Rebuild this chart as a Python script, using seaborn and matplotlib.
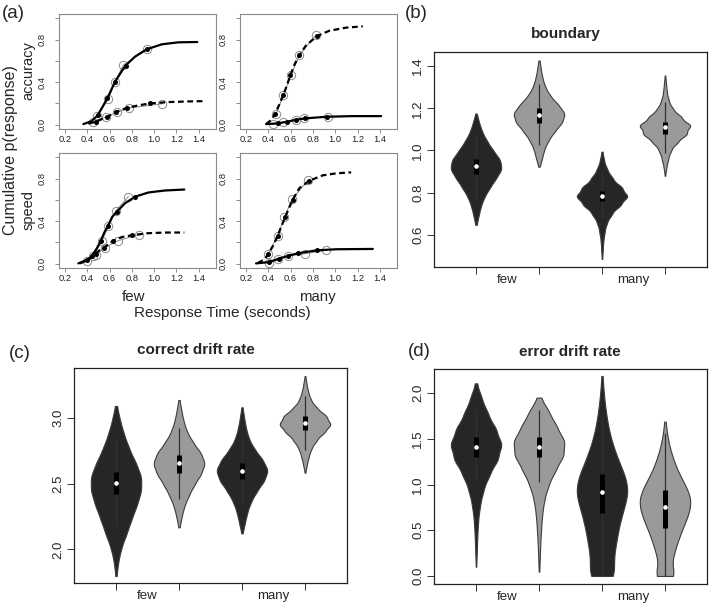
import numpy as np
import pandas as pd
import matplotlib
matplotlib.use("Agg")
import matplotlib.pyplot as plt
import seaborn as sns

sns.set_theme(style="white")
plt.rcParams["font.family"] = ["Liberation Sans", "DejaVu Sans"]

DARK = "#262626"
LIGHT = "#9a9a9a"
GREY = "#8a8a8a"

# ---------------- panel (a): cumulative response-time curves ----------------
# top-left: few / accuracy
fa_solid_curve = ([0.365, 0.439, 0.493, 0.58, 0.649, 0.739, 0.828, 0.933, 1.068, 1.217, 1.388],
                  [0.006, 0.034, 0.088, 0.247, 0.404, 0.551, 0.639, 0.708, 0.755, 0.774, 0.777])
fa_solid_dots = ([0.493, 0.58, 0.649, 0.745, 0.939], [0.088, 0.247, 0.404, 0.551, 0.708])
fa_solid_circ = ([0.49, 0.589, 0.649, 0.724, 0.939], [0.08, 0.244, 0.404, 0.561, 0.711])
fa_dash_curve = ([0.41, 0.475, 0.574, 0.655, 0.76, 0.858, 0.963, 1.128, 1.307, 1.463],
                 [0.01, 0.028, 0.072, 0.119, 0.16, 0.182, 0.2, 0.213, 0.219, 0.222])
fa_dash_dots = ([0.475, 0.574, 0.655, 0.76, 0.963], [0.028, 0.072, 0.119, 0.16, 0.2])
fa_dash_circ = ([0.448, 0.565, 0.664, 0.774, 1.074], [0.025, 0.072, 0.116, 0.157, 0.197])

# top-right: many / accuracy
ma_dash_curve = ([0.38, 0.424, 0.46, 0.499, 0.535, 0.568, 0.598, 0.637, 0.679, 0.739, 0.837, 0.948, 1.098, 1.247],
                 [0.006, 0.044, 0.1, 0.191, 0.279, 0.373, 0.467, 0.57, 0.655, 0.746, 0.833, 0.883, 0.912, 0.924])
ma_dash_dots = ([0.46, 0.535, 0.598, 0.679, 0.837], [0.1, 0.279, 0.467, 0.655, 0.833])
ma_dash_circ = ([0.469, 0.535, 0.604, 0.679, 0.828], [0.097, 0.279, 0.467, 0.655, 0.843])
ma_solid_curve = ([0.38, 0.484, 0.568, 0.649, 0.733, 0.924, 1.157, 1.412],
                  [0.006, 0.0125, 0.028, 0.047, 0.06, 0.075, 0.081, 0.081])
ma_solid_dots = ([0.484, 0.568, 0.649, 0.733, 0.924], [0.0125, 0.028, 0.047, 0.06, 0.075])
ma_solid_circ = ([0.439, 0.529, 0.649, 0.724, 0.933], [0.003, 0.025, 0.044, 0.06, 0.075])

# bottom-left: few / speed
fs_solid_curve = ([0.32, 0.4, 0.439, 0.484, 0.52, 0.553, 0.583, 0.625, 0.667, 0.739, 0.831, 0.948, 1.098, 1.271],
                  [0.003, 0.038, 0.07, 0.142, 0.21, 0.293, 0.35, 0.442, 0.49, 0.568, 0.63, 0.669, 0.688, 0.697])
fs_solid_dots = ([0.439, 0.52, 0.583, 0.667, 0.831], [0.07, 0.21, 0.35, 0.49, 0.63])
fs_solid_circ = ([0.454, 0.529, 0.589, 0.655, 0.769], [0.069, 0.211, 0.35, 0.495, 0.631])
fs_dash_curve = ([0.335, 0.4, 0.439, 0.475, 0.514, 0.55, 0.589, 0.634, 0.709, 0.804, 0.948, 1.098, 1.271],
                 [0.003, 0.032, 0.06, 0.095, 0.13, 0.151, 0.18, 0.218, 0.25, 0.268, 0.287, 0.293, 0.293])
fs_dash_dots = ([0.4, 0.475, 0.55, 0.634, 0.804], [0.032, 0.095, 0.151, 0.218, 0.268])
fs_dash_circ = ([0.4, 0.475, 0.559, 0.673, 0.864], [0.025, 0.085, 0.151, 0.215, 0.274])

# bottom-right: many / speed
ms_dash_curve = ([0.305, 0.365, 0.4, 0.445, 0.484, 0.517, 0.55, 0.583, 0.619, 0.679, 0.769, 0.888, 1.008, 1.143],
                 [0.006, 0.041, 0.09, 0.174, 0.262, 0.35, 0.435, 0.517, 0.602, 0.71, 0.78, 0.83, 0.849, 0.858])
ms_dash_dots = ([0.4, 0.484, 0.55, 0.619, 0.769], [0.09, 0.262, 0.435, 0.602, 0.78])
ms_dash_circ = ([0.4, 0.484, 0.544, 0.613, 0.754], [0.095, 0.262, 0.435, 0.606, 0.782])
ms_solid_curve = ([0.29, 0.409, 0.493, 0.574, 0.664, 0.834, 1.008, 1.337],
                  [0.003, 0.016, 0.047, 0.073, 0.098, 0.126, 0.136, 0.139])
ms_solid_dots = ([0.409, 0.493, 0.574, 0.664, 0.834], [0.016, 0.047, 0.073, 0.098, 0.126])
ms_solid_circ = ([0.409, 0.484, 0.574, 0.733, 0.918], [0.006, 0.044, 0.073, 0.095, 0.126])

cdf_xticks = [0.2, 0.4, 0.6, 0.8, 1.0, 1.2, 1.4]
cdf_yticks = [0.0, 0.2, 0.4, 0.6, 0.8, 1.0]
cdf_yticklabels = ["0.0", "", "0.4", "", "0.8", ""]

# ---------------- violin panels: value grid + relative frequency ----------------
positions = [1, 2, 3, 4]
groups = ["few-1", "few-2", "many-1", "many-2"]
group_colors = [DARK, LIGHT, DARK, LIGHT]

# (b) boundary
b_vals_1 = [0.647, 0.691, 0.735, 0.779, 0.823, 0.867, 0.911, 0.955, 0.999, 1.043, 1.087, 1.131, 1.175]
b_cnts_1 = [2, 10, 18, 31, 52, 75, 98, 92, 65, 42, 23, 12, 2]
b_vals_2 = [0.923, 0.965, 1.007, 1.049, 1.091, 1.133, 1.175, 1.217, 1.259, 1.301, 1.343, 1.385, 1.427]
b_cnts_2 = [2, 12, 20, 36, 59, 88, 99, 73, 42, 23, 13, 7, 2]
b_vals_3 = [0.485, 0.527, 0.570, 0.612, 0.655, 0.697, 0.740, 0.782, 0.824, 0.867, 0.909, 0.952, 0.994]
b_cnts_3 = [1, 3, 5, 10, 18, 37, 71, 100, 77, 41, 20, 8, 2]
b_vals_4 = [0.880, 0.920, 0.959, 0.999, 1.039, 1.078, 1.118, 1.158, 1.197, 1.237, 1.277, 1.316, 1.356]
b_cnts_4 = [1, 5, 12, 22, 46, 82, 98, 61, 29, 14, 7, 4, 1]
b_median = [0.926, 1.170, 0.784, 1.109]
b_q1 = [0.888, 1.131, 0.761, 1.080]
b_q3 = [0.958, 1.203, 0.808, 1.134]
b_wlo = [0.765, 1.025, 0.679, 0.986]
b_whi = [1.080, 1.314, 0.891, 1.230]

# (c) correct drift rate
c_vals_1 = [1.796, 1.904, 2.012, 2.121, 2.229, 2.337, 2.445, 2.553, 2.661, 2.770, 2.878, 2.986, 3.094]
c_cnts_1 = [2, 8, 20, 41, 59, 80, 97, 98, 76, 50, 30, 15, 3]
c_vals_2 = [2.168, 2.249, 2.330, 2.411, 2.492, 2.573, 2.654, 2.735, 2.816, 2.897, 2.978, 3.059, 3.140]
c_cnts_2 = [2, 10, 20, 37, 58, 84, 100, 84, 53, 30, 17, 9, 2]
c_vals_3 = [2.122, 2.202, 2.282, 2.363, 2.443, 2.523, 2.603, 2.683, 2.763, 2.844, 2.924, 3.004, 3.084]
c_cnts_3 = [2, 11, 20, 34, 56, 85, 100, 79, 48, 26, 15, 8, 2]
c_vals_4 = [2.585, 2.647, 2.708, 2.770, 2.831, 2.893, 2.954, 3.016, 3.077, 3.139, 3.200, 3.262, 3.323]
c_cnts_4 = [1, 7, 14, 24, 43, 73, 99, 82, 45, 22, 12, 6, 1]
c_median = [2.509, 2.656, 2.600, 2.967]
c_q1 = [2.420, 2.585, 2.534, 2.911]
c_q3 = [2.593, 2.720, 2.662, 3.018]
c_wlo = [2.173, 2.384, 2.331, 2.758]
c_whi = [2.847, 2.924, 2.847, 3.170]

# (d) error drift rate
d_vals_1 = [0.102, 0.269, 0.437, 0.604, 0.771, 0.938, 1.106, 1.273, 1.440, 1.607, 1.775, 1.942, 2.109]
d_cnts_1 = [1, 3, 5, 8, 15, 28, 51, 84, 100, 77, 46, 22, 3]
d_vals_2 = [0.047, 0.206, 0.365, 0.524, 0.682, 0.841, 1.000, 1.159, 1.318, 1.477, 1.636, 1.794, 1.953]
d_cnts_2 = [1, 3, 5, 8, 12, 20, 36, 62, 93, 97, 66, 38, 6]
d_vals_3 = [0.0, 0.183, 0.365, 0.548, 0.730, 0.913, 1.095, 1.278, 1.460, 1.643, 1.825, 2.008, 2.190]
d_cnts_3 = [52, 41, 53, 63, 80, 100, 87, 59, 37, 22, 13, 6, 2]
d_vals_4 = [0.0, 0.141, 0.282, 0.423, 0.563, 0.704, 0.845, 0.986, 1.127, 1.268, 1.408, 1.549, 1.690]
d_cnts_4 = [42, 22, 38, 52, 72, 92, 99, 78, 51, 32, 17, 8, 2]
d_median = [1.416, 1.416, 0.920, 0.759]
d_q1 = [1.307, 1.307, 0.686, 0.522]
d_q3 = [1.518, 1.518, 1.117, 0.942]
d_wlo = [1.033, 1.033, 0.0, 0.0]
d_whi = [1.818, 1.818, 1.780, 1.562]

# ---------------- figure ----------------
W, H = 709, 605
fig = plt.figure(figsize=(W / 100, H / 100), dpi=100)


def rect(x0, y0, x1, y1):
    return [x0 / W, 1 - y1 / H, (x1 - x0) / W, (y1 - y0) / H]


DASH = (0, (2.6, 1.6))


def cdf_panel(ax, series):
    for curve, dots, circ, ls in series:
        sns.lineplot(x=circ[0], y=circ[1], ax=ax, color=GREY, lw=0.7, sort=False,
                     estimator=None, marker="o", ms=6, mfc="none", mec=GREY, mew=0.7, zorder=2)
        sns.lineplot(x=curve[0], y=curve[1], ax=ax, color="black", lw=1.6, sort=False,
                     estimator=None, linestyle=ls, zorder=3)
        sns.scatterplot(x=dots[0], y=dots[1], ax=ax, color="black", s=13, linewidth=0, zorder=4)
    ax.set_xlim(0.148, 1.552)
    ax.set_ylim(-0.04, 1.04)
    ax.set_xticks(cdf_xticks)
    ax.set_xticklabels([f"{t:.1f}" for t in cdf_xticks])
    ax.set_yticks(cdf_yticks)
    ax.set_yticklabels(cdf_yticklabels)
    for lab in ax.get_yticklabels():
        lab.set_rotation(90)
        lab.set_va("center")
    ax.tick_params(axis="both", direction="out", length=3, width=0.6, color="#7a7a7a",
                   labelsize=6.7, labelcolor="#222222", left=True, bottom=True)
    ax.tick_params(axis="x", pad=1.2)
    ax.tick_params(axis="y", pad=6)
    for sp in ax.spines.values():
        sp.set_color("#8a8a8a")
        sp.set_linewidth(0.8)
    ax.set_xlabel("")
    ax.set_ylabel("")


ax_fa = fig.add_axes(rect(59.2, 14, 215.6, 129))
cdf_panel(ax_fa, [(fa_solid_curve, fa_solid_dots, fa_solid_circ, "-"),
                  (fa_dash_curve, fa_dash_dots, fa_dash_circ, DASH)])
ax_ma = fig.add_axes(rect(240.2, 14, 396.8, 129))
cdf_panel(ax_ma, [(ma_dash_curve, ma_dash_dots, ma_dash_circ, DASH),
                  (ma_solid_curve, ma_solid_dots, ma_solid_circ, "-")])
ax_fs = fig.add_axes(rect(59.2, 153, 215.6, 268))
cdf_panel(ax_fs, [(fs_solid_curve, fs_solid_dots, fs_solid_circ, "-"),
                  (fs_dash_curve, fs_dash_dots, fs_dash_circ, DASH)])
ax_ms = fig.add_axes(rect(240.2, 153, 396.8, 268))
cdf_panel(ax_ms, [(ms_dash_curve, ms_dash_dots, ms_dash_circ, DASH),
                  (ms_solid_curve, ms_solid_dots, ms_solid_circ, "-")])


def violin_panel(ax, vals, cnts, med, q1, q3, wlo, whi, ylim, yticks):
    frames = []
    for p, v, c in zip(positions, vals, cnts):
        frames.append(pd.DataFrame({"pos": p, "value": np.repeat(v, c)}))
    df = pd.concat(frames, ignore_index=True)
    sns.violinplot(data=df, x="pos", y="value", hue="pos", native_scale=True,
                   palette=group_colors, saturation=1, inner=None, cut=0,
                   density_norm="width", bw_method=0.25, width=0.8,
                   linewidth=0.8, linecolor="#3c3c3c", legend=False, ax=ax)
    ax.vlines(positions, wlo, whi, colors="#303030", lw=0.9, zorder=3)
    ax.vlines(positions, q1, q3, colors="black", lw=3.6, zorder=4)
    sns.scatterplot(x=positions, y=med, color="white", s=11, linewidth=0, zorder=5, ax=ax)
    ax.set_xlim(0.333, 4.667)
    ax.set_ylim(*ylim)
    ax.set_xticks(positions)
    ax.set_xticklabels([""] * 4)
    ax.set_xticks([1.5, 3.5], ["few", "many"], minor=True)
    ax.set_yticks(yticks)
    ax.set_yticklabels([f"{t:.1f}" for t in yticks])
    for lab in ax.get_yticklabels():
        lab.set_rotation(90)
        lab.set_va("center")
    ax.tick_params(axis="both", which="major", direction="out", length=5, width=0.7,
                   color="#333333", labelsize=9.5, left=True, bottom=True, pad=2)
    ax.tick_params(axis="x", which="minor", length=0, labelsize=9.5, pad=5)
    for sp in ax.spines.values():
        sp.set_color("#222222")
        sp.set_linewidth(0.9)
    ax.set_xlabel("")
    ax.set_ylabel("")


ax_b = fig.add_axes(rect(434, 52.3, 707, 266.7))
violin_panel(ax_b, [b_vals_1, b_vals_2, b_vals_3, b_vals_4],
             [b_cnts_1, b_cnts_2, b_cnts_3, b_cnts_4],
             b_median, b_q1, b_q3, b_wlo, b_whi, (0.448, 1.466),
             [0.6, 0.8, 1.0, 1.2, 1.4])
ax_c = fig.add_axes(rect(74, 368, 347, 583))
violin_panel(ax_c, [c_vals_1, c_vals_2, c_vals_3, c_vals_4],
             [c_cnts_1, c_cnts_2, c_cnts_3, c_cnts_4],
             c_median, c_q1, c_q3, c_wlo, c_whi, (1.743, 3.384),
             [2.0, 2.5, 3.0])
ax_d = fig.add_axes(rect(434, 369, 707, 584))
violin_panel(ax_d, [d_vals_1, d_vals_2, d_vals_3, d_vals_4],
             [d_cnts_1, d_cnts_2, d_cnts_3, d_cnts_4],
             d_median, d_q1, d_q3, d_wlo, d_whi, (-0.088, 2.266),
             [0.0, 0.5, 1.0, 1.5, 2.0])


def ftext(x, y, s, **kw):
    fig.text(x / W, 1 - y / H, s, **kw)


ftext(13, 13, "(a)", fontsize=13.5, ha="center", va="center")
ftext(416.5, 13, "(b)", fontsize=13.5, ha="center", va="center")
ftext(19.5, 354, "(c)", fontsize=13.5, ha="center", va="center")
ftext(419, 352, "(d)", fontsize=13.5, ha="center", va="center")
ftext(566, 34, "boundary", fontsize=11, fontweight="bold", ha="center", va="center")
ftext(196, 350, "correct drift rate", fontsize=11, fontweight="bold", ha="center", va="center")
ftext(570, 352, "error drift rate", fontsize=11, fontweight="bold", ha="center", va="center")

ftext(11, 150, "Cumulative p(response)", fontsize=11.5, rotation=90, ha="center", va="center")
ftext(28.5, 71, "accuracy", fontsize=10.5, rotation=90, ha="center", va="center")
ftext(28.5, 210, "speed", fontsize=10.5, rotation=90, ha="center", va="center")
ftext(133, 297, "few", fontsize=10.8, ha="center", va="center")
ftext(317, 297, "many", fontsize=10.8, ha="center", va="center")
ftext(222, 313, "Response Time (seconds)", fontsize=11, ha="center", va="center")

fig.savefig("out.png", dpi=100)
